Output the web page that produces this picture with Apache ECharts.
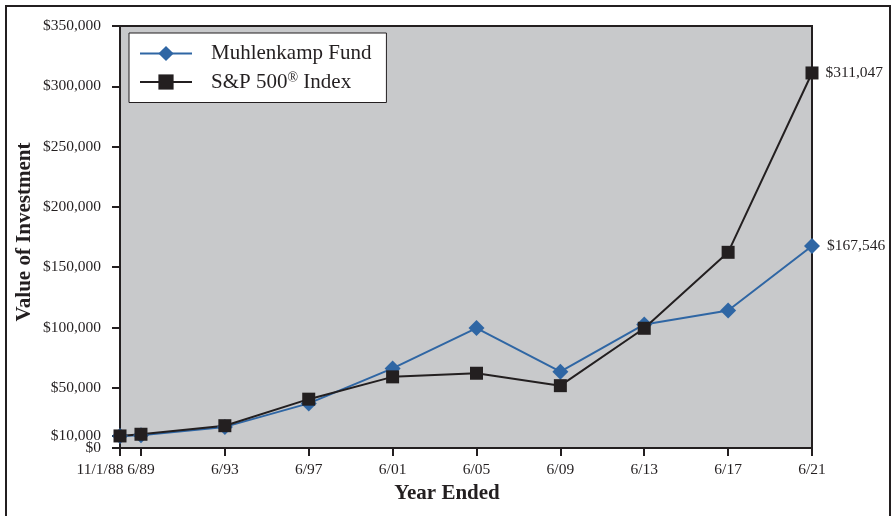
<!DOCTYPE html>
<html>
<head>
<meta charset="utf-8">
<script src="https://cdn.jsdelivr.net/npm/echarts@6/dist/echarts.min.js"></script>
<style>html,body{margin:0;padding:0;background:#fff}#c{width:895px;height:516px}</style>
</head>
<body>
<div id="c"></div>
<script>
// ---- data ----
const xLabels = ['11/1/88','6/89','6/93','6/97','6/01','6/05','6/09','6/13','6/17','6/21'];
const xPositions = [0, 1, 5, 9, 13, 17, 21, 25, 29, 33]; // years after 6/88 (first point placed one year before 6/89)
const muhlenkamp = [10000, 10500, 17500, 37000, 66000, 99500, 63300, 102500, 114000, 167546];
const sp500 = [10000, 11400, 18500, 40500, 59000, 62000, 51700, 99300, 162300, 311047];
const yTicks = [0, 10000, 50000, 100000, 150000, 200000, 250000, 300000, 350000];
const yTicksMain = [0, 50000, 100000, 150000, 200000, 250000, 300000, 350000];
const yTicksExtra = [10000];

const FONT = '"Liberation Serif", "Times New Roman", serif';
const INK = '#231f20';
const BLUE = '#2f66a4';
function money(v){ return '$' + String(Math.round(v)).replace(/\B(?=(\d{3})+(?!\d))/g, ','); }
function pts(vals){
  return vals.map((v,i)=>{
    const item = {value:[xPositions[i], v]};
    if (i === vals.length-1) item.label = {show:true, position:'right', distance:7, formatter: money(v), fontFamily:FONT, fontSize:15.5, color:INK};
    return item;
  });
}
const yBase = {type:'value', min:0, max:350000, position:'left', splitLine:{show:false}};

const chart = echarts.init(document.getElementById('c'), null, {renderer:'canvas'});
chart.setOption({
  animation:false,
  grid:{left:120, right:83, top:26, bottom:68, show:true, backgroundColor:'#c8c9cb', borderColor:INK, borderWidth:2},
  legend:{
    orient:'vertical', left:129, top:33,
    backgroundColor:'#fff', borderColor:INK, borderWidth:1,
    padding:[10,15,10,10],
    itemWidth:52, itemHeight:19, itemGap:7,
    textStyle:{fontFamily:FONT, fontSize:21, color:INK, padding:[0,0,0,14],
      rich:{sup:{fontFamily:FONT, fontSize:14, color:INK, verticalAlign:'top', padding:[0,0,8,0]}, n:{fontFamily:FONT, fontSize:21, color:INK}}},
    formatter:function(name){
      if (name.indexOf('®')>=0){ const p=name.split('®'); return '{n|'+p[0]+'}{sup|®}{n|'+p[1]+'}'; }
      return name;
    },
    data:['Muhlenkamp Fund','S&P 500® Index']
  },
  xAxis:{
    type:'value', min:0, max:33,
    axisLine:{show:true, lineStyle:{color:INK, width:2}},
    axisTick:{show:true, customValues:xPositions, length:8, lineStyle:{color:INK, width:2}},
    splitLine:{show:false},
    axisLabel:{customValues:xPositions, margin:14, fontFamily:FONT, fontSize:15.5, color:INK, hideOverlap:false,
      formatter:function(v){ const i=xPositions.indexOf(v); if(i===0) return '{f|'+xLabels[0]+'}'; return xLabels[i]; },
      rich:{f:{fontFamily:FONT, fontSize:15.5, color:INK, padding:[0,40,0,0]}}}
  },
  yAxis:[
    Object.assign({}, yBase, {
      axisLine:{show:true, lineStyle:{color:INK, width:2}},
      axisTick:{show:true, customValues:yTicks, length:8, lineStyle:{color:INK, width:2}},
      axisLabel:{customValues:yTicksMain, margin:19, fontFamily:FONT, fontSize:15.5, color:INK, formatter:money,
        showMinLabel:true, hideOverlap:false}
    }),
    Object.assign({}, yBase, {
      axisLine:{show:false}, axisTick:{show:false},
      axisLabel:{customValues:yTicksExtra, margin:19, fontFamily:FONT, fontSize:15.5, color:INK, formatter:money,
        showMinLabel:true, showMaxLabel:true, hideOverlap:false}
    })
  ],
  graphic:[
    {type:'rect', shape:{x:6, y:6, width:884, height:530}, style:{fill:'none', stroke:INK, lineWidth:2}, silent:true},
    {type:'text', x:25, y:232, rotation:Math.PI/2, style:{text:'Value of Investment', font:'bold 21px '+FONT, fill:INK, textAlign:'center', textVerticalAlign:'middle'}},
    {type:'text', x:447, y:494, style:{text:'Year Ended', font:'bold 21px '+FONT, fill:INK, textAlign:'center', textVerticalAlign:'middle'}}
  ],
  series:[
    {name:'Muhlenkamp Fund', type:'line', data:pts(muhlenkamp), symbol:'diamond', symbolSize:16,
      lineStyle:{color:BLUE, width:2}, itemStyle:{color:BLUE}, clip:false},
    {name:'S&P 500® Index', type:'line', data:pts(sp500), symbol:'rect', symbolSize:13,
      lineStyle:{color:INK, width:2}, itemStyle:{color:INK}, clip:false}
  ]
});
</script>
</body>
</html>
